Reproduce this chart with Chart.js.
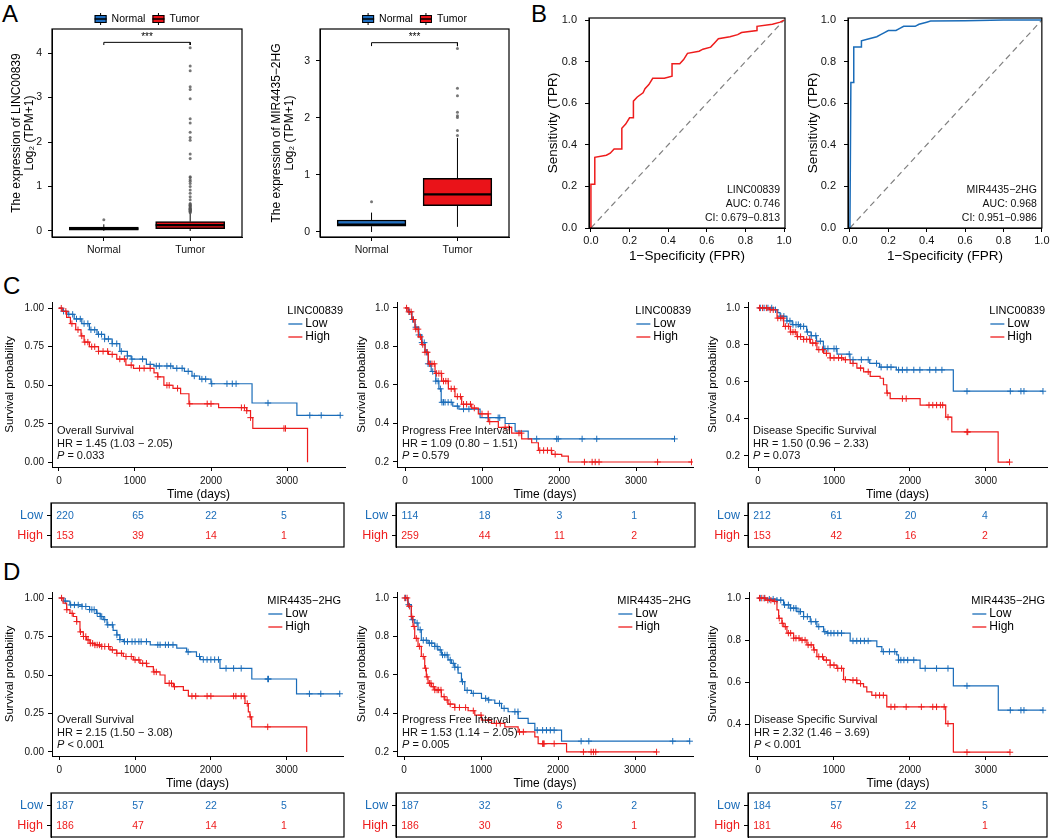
<!DOCTYPE html>
<html>
<head>
<meta charset="utf-8">
<script src="https://cdn.jsdelivr.net/npm/chart.js@4.4.1/dist/chart.umd.min.js"></script>
<style>
  body { margin: 0; width: 1052px; height: 839px; background: #fff; position: relative; overflow: hidden; font-family: "Liberation Sans", Arial, sans-serif; }
  .tag { position: absolute; font-size: 24px; line-height: 24px; color: #000; }
</style>
</head>
<body>
<div class="tag" style="left:2px;top:2px">A</div>
<div class="tag" style="left:531px;top:2px">B</div>
<div class="tag" style="left:3px;top:274px">C</div>
<div class="tag" style="left:3px;top:560px">D</div>
<script>
// ---------- A: expression boxplots (lower whisker, q1, median, q3, upper whisker) ----------
const groups = ['Normal', 'Tumor'];
const lincNormalBox = [0.0, 0.02, 0.05, 0.09, 0.15];
const lincTumorBox = [0.0, 0.05, 0.13, 0.21, 0.40];
const lincNormalOut = [0.25];
const lincTumorOut = [0.41, 0.43, 0.44, 0.45, 0.46, 0.47, 0.48, 0.49, 0.50, 0.51, 0.53, 0.55, 0.57, 0.58, 0.60, 0.62,
  0.70, 0.77, 0.85, 0.92, 1.00, 1.07, 1.12, 1.15, 1.20, 1.22, 1.63, 1.73, 2.04, 2.10, 2.22, 2.43, 2.52, 2.97,
  3.18, 3.24, 3.60, 3.71, 4.12];
const mirNormalBox = [0.0, 0.10, 0.13, 0.21, 0.34];
const mirTumorBox = [0.09, 0.46, 0.66, 0.94, 1.65];
const mirNormalOut = [0.53];
const mirTumorOut = [1.69, 1.78, 2.01, 2.04, 2.10, 2.39, 2.52, 3.22];

// ---------- B: ROC curves ----------
const rocLincFpr = [0, 0, 0.02, 0.02, 0.08, 0.10, 0.12, 0.16, 0.16, 0.18, 0.20, 0.22, 0.22, 0.24, 0.27, 0.28, 0.30,
  0.32, 0.38, 0.42, 0.42, 0.46, 0.48, 0.50, 0.56, 0.58, 0.62, 0.64, 0.66, 0.72, 0.76, 0.78, 0.86, 0.86, 0.94, 0.98, 1];
const rocLincTpr = [0, 0.21, 0.21, 0.34, 0.35, 0.36, 0.38, 0.38, 0.48, 0.50, 0.53, 0.53, 0.61, 0.63, 0.65, 0.67, 0.69,
  0.72, 0.72, 0.73, 0.79, 0.79, 0.81, 0.84, 0.85, 0.86, 0.87, 0.89, 0.91, 0.92, 0.93, 0.94, 0.95, 0.97, 0.98, 0.99, 1];
const rocLincNote = ['LINC00839', 'AUC: 0.746', 'CI: 0.679−0.813'];
const rocMirFpr = [0, 0.005, 0.02, 0.02, 0.06, 0.06, 0.10, 0.14, 0.16, 0.18, 0.20, 0.24, 0.26, 0.28, 0.34, 0.36, 0.40, 0.42, 0.60, 0.80, 1];
const rocMirTpr = [0, 0.70, 0.70, 0.87, 0.87, 0.90, 0.91, 0.92, 0.93, 0.94, 0.95, 0.95, 0.96, 0.97, 0.97, 0.98, 0.99, 0.995, 0.997, 1, 1];
const rocMirNote = ['MIR4435−2HG', 'AUC: 0.968', 'CI: 0.951−0.986'];

// ---------- C / D: Kaplan-Meier curves (step times, survival, censor times) ----------
const riskTimes = [0, 1000, 2000, 3000];

const cOsLowT = [0, 50, 120, 200, 300, 400, 500, 600, 700, 800, 900, 950, 1150, 1250, 1500, 1650, 1750, 1850, 2000, 2540, 3130, 3700];
const cOsLowS = [1, 0.98, 0.96, 0.93, 0.90, 0.86, 0.83, 0.80, 0.77, 0.72, 0.69, 0.67, 0.635, 0.625, 0.61, 0.59, 0.56, 0.54, 0.51, 0.385, 0.305, 0.305];
const cOsLowC = [60, 130, 180, 230, 280, 330, 380, 420, 470, 520, 560, 600, 650, 700, 760, 820, 900, 960, 1100, 1200, 1280, 1320, 1420, 1470, 1550, 1620, 1700, 1780, 1880, 1930, 2010, 2210, 2280, 2330, 2750, 3300, 3450, 3700];
const cOsHighT = [0, 40, 100, 150, 220, 290, 330, 400, 520, 650, 760, 880, 980, 1250, 1300, 1380, 1500, 1600, 1710, 2100, 2470, 2520, 2550, 3270];
const cOsHighS = [1, 0.98, 0.94, 0.90, 0.86, 0.82, 0.78, 0.75, 0.72, 0.70, 0.67, 0.63, 0.61, 0.58, 0.555, 0.50, 0.48, 0.445, 0.38, 0.355, 0.335, 0.29, 0.22, 0];
const cOsHighC = [30, 90, 170, 250, 300, 340, 380, 430, 470, 520, 580, 640, 700, 800, 860, 950, 1060, 1120, 1200, 1300, 1420, 1450, 1560, 1720, 1950, 2000, 2400, 2440, 2470, 2520, 2960, 2980];
const cOsRiskLow = [220, 65, 22, 5];
const cOsRiskHigh = [153, 39, 14, 1];
const cOsNote = ['Overall Survival', 'HR = 1.45 (1.03 − 2.05)', '= 0.033'];

const cPfiLowT = [0, 40, 90, 130, 180, 220, 260, 300, 340, 400, 440, 470, 620, 700, 975, 1300, 1430, 1600, 3500];
const cPfiLowS = [1, 0.98, 0.94, 0.90, 0.86, 0.82, 0.77, 0.71, 0.67, 0.62, 0.58, 0.51, 0.49, 0.475, 0.43, 0.40, 0.36, 0.32, 0.32];
const cPfiLowC = [60, 100, 140, 180, 220, 250, 280, 300, 330, 360, 400, 430, 460, 480, 500, 520, 560, 600, 680, 760, 830, 1080, 1210, 1230, 1710, 1970, 1990, 2300, 2490, 3500];
const cPfiHighT = [0, 40, 87, 130, 173, 216, 260, 303, 390, 476, 563, 649, 736, 866, 952, 1082, 1212, 1385, 1515, 1645, 1732, 1905, 2035, 2121, 3720];
const cPfiHighS = [1, 0.98, 0.94, 0.89, 0.85, 0.81, 0.77, 0.71, 0.66, 0.62, 0.58, 0.54, 0.50, 0.48, 0.45, 0.41, 0.38, 0.35, 0.32, 0.30, 0.26, 0.24, 0.23, 0.20, 0.20];
const cPfiHighC = [20, 50, 80, 110, 140, 170, 200, 230, 260, 290, 320, 350, 380, 410, 440, 470, 500, 530, 560, 600, 640, 680, 720, 760, 800, 850, 900, 1000, 1080, 1100, 1300, 1350, 1480, 1510, 1750, 1800, 1850, 1900, 1950, 2330, 2430, 2470, 2520, 3280, 3720];
const cPfiRiskLow = [114, 18, 3, 1];
const cPfiRiskHigh = [259, 44, 11, 2];
const cPfiNote = ['Progress Free Interval', 'HR = 1.09 (0.80 − 1.51)', '= 0.579'];

const cDssLowT = [0, 200, 260, 290, 380, 450, 550, 640, 700, 770, 860, 1040, 1210, 1470, 1600, 1820, 2570, 3750];
const cDssLowS = [1, 0.99, 0.975, 0.955, 0.93, 0.91, 0.90, 0.87, 0.85, 0.82, 0.78, 0.75, 0.72, 0.70, 0.68, 0.665, 0.55, 0.55];
const cDssLowC = [30, 80, 130, 180, 230, 300, 340, 380, 420, 460, 500, 530, 560, 600, 650, 700, 760, 820, 880, 920, 1000, 1030, 1200, 1250, 1360, 1450, 1560, 1620, 1700, 1750, 1850, 1900, 1960, 2050, 2130, 2260, 2340, 2420, 2750, 3320, 3460, 3500, 3750];
const cDssHighT = [0, 150, 250, 337, 425, 512, 600, 688, 775, 863, 950, 1125, 1213, 1301, 1389, 1476, 1607, 1651, 1695, 1739, 2133, 2470, 2550, 3160, 3310];
const cDssHighS = [1, 0.99, 0.945, 0.90, 0.87, 0.845, 0.83, 0.81, 0.775, 0.755, 0.73, 0.72, 0.70, 0.675, 0.655, 0.63, 0.62, 0.585, 0.54, 0.51, 0.475, 0.41, 0.33, 0.167, 0.167];
const cDssHighC = [20, 60, 110, 160, 200, 260, 300, 330, 360, 400, 430, 460, 490, 520, 560, 600, 640, 680, 720, 760, 800, 850, 900, 950, 1000, 1060, 1100, 1150, 1250, 1350, 1450, 1700, 1900, 1950, 2250, 2300, 2350, 2400, 2430, 2500, 2750, 2760, 3310];
const cDssRiskLow = [212, 61, 20, 4];
const cDssRiskHigh = [153, 42, 16, 2];
const cDssNote = ['Disease Specific Survival', 'HR = 1.50 (0.96 − 2.33)', '= 0.073'];

const dOsLowT = [0, 60, 140, 300, 400, 490, 540, 580, 630, 710, 760, 800, 845, 1200, 1550, 1680, 1810, 1860, 2120, 2540, 3130, 3700];
const dOsLowS = [1, 0.98, 0.955, 0.945, 0.925, 0.90, 0.88, 0.86, 0.826, 0.79, 0.76, 0.73, 0.717, 0.696, 0.674, 0.65, 0.62, 0.60, 0.543, 0.474, 0.378, 0.378];
const dOsLowC = [80, 150, 200, 250, 300, 350, 400, 430, 460, 500, 540, 560, 600, 640, 700, 760, 800, 860, 900, 960, 1000, 1050, 1080, 1150, 1300, 1330, 1400, 1440, 1500, 1700, 1850, 1900, 1950, 2000, 2050, 2100, 2200, 2300, 2400, 2750, 2760, 3300, 3450, 3700];
const dOsHighT = [0, 50, 97, 141, 185, 229, 273, 317, 360, 405, 470, 537, 669, 757, 845, 977, 1065, 1153, 1241, 1329, 1395, 1505, 1637, 1703, 2450, 2494, 2515, 2538, 3264];
const dOsHighS = [1, 0.967, 0.924, 0.90, 0.88, 0.847, 0.78, 0.75, 0.728, 0.706, 0.695, 0.685, 0.663, 0.641, 0.62, 0.598, 0.576, 0.554, 0.52, 0.50, 0.446, 0.424, 0.40, 0.363, 0.315, 0.26, 0.228, 0.163, 0];
const dOsHighC = [30, 100, 170, 230, 280, 320, 350, 380, 410, 440, 470, 500, 530, 560, 600, 650, 700, 760, 820, 880, 950, 1000, 1050, 1100, 1150, 1250, 1280, 1450, 1480, 1520, 1750, 1800, 1950, 2000, 2300, 2330, 2400, 2440, 2480, 2520, 2750];
const dOsRiskLow = [187, 57, 22, 5];
const dOsRiskHigh = [186, 47, 14, 1];
const dOsNote = ['Overall Survival', 'HR = 2.15 (1.50 − 3.08)', '< 0.001'];

const dPfiLowT = [0, 52, 95, 140, 182, 225, 312, 399, 440, 485, 572, 615, 659, 702, 746, 789, 876, 1006, 1090, 1179, 1266, 1352, 1482, 1612, 1699, 2046, 3715];
const dPfiLowS = [1, 0.965, 0.887, 0.87, 0.835, 0.78, 0.765, 0.748, 0.73, 0.704, 0.678, 0.66, 0.64, 0.61, 0.565, 0.52, 0.504, 0.478, 0.47, 0.452, 0.426, 0.409, 0.374, 0.348, 0.313, 0.256, 0.256];
const dPfiLowC = [20, 60, 110, 170, 210, 250, 290, 330, 360, 400, 430, 470, 500, 530, 560, 600, 640, 660, 700, 760, 820, 900, 1060, 1100, 1240, 1300, 1440, 1480, 1730, 1800, 1850, 1900, 1950, 2300, 2400, 3490, 3710];
const dPfiHighT = [0, 50, 95, 117, 139, 182, 225, 269, 290, 312, 355, 399, 485, 530, 572, 659, 832, 919, 1006, 1136, 1309, 1482, 1699, 1742, 2111, 3280];
const dPfiHighS = [1, 0.957, 0.904, 0.852, 0.79, 0.748, 0.696, 0.635, 0.59, 0.557, 0.539, 0.522, 0.487, 0.47, 0.449, 0.431, 0.414, 0.391, 0.365, 0.348, 0.33, 0.304, 0.278, 0.243, 0.20, 0.20];
const dPfiHighC = [10, 40, 70, 100, 130, 160, 200, 250, 280, 300, 330, 350, 380, 400, 430, 450, 480, 520, 560, 600, 660, 720, 800, 900, 1000, 1100, 1200, 1250, 1500, 1550, 1800, 1810, 1820, 1950, 2330, 2430, 2460, 2490, 3280];
const dPfiRiskLow = [187, 32, 6, 2];
const dPfiRiskHigh = [186, 30, 8, 1];
const dPfiNote = ['Progress Free Interval', 'HR = 1.53 (1.14 − 2.05)', '= 0.005'];

const dDssLowT = [0, 120, 250, 337, 425, 512, 600, 688, 775, 863, 907, 1213, 1564, 1630, 1826, 1849, 2133, 2571, 3162, 3754];
const dDssLowS = [1, 0.995, 0.99, 0.968, 0.952, 0.936, 0.912, 0.888, 0.864, 0.84, 0.833, 0.796, 0.769, 0.745, 0.73, 0.705, 0.665, 0.582, 0.466, 0.466];
const dDssLowC = [30, 80, 150, 200, 250, 300, 350, 400, 430, 470, 500, 540, 560, 600, 650, 700, 760, 800, 880, 920, 960, 1000, 1050, 1100, 1250, 1300, 1350, 1400, 1450, 1650, 1730, 1800, 1850, 1880, 1920, 1970, 2050, 2200, 2350, 2500, 2750, 3320, 3460, 3500, 3750];
const dDssHighT = [0, 100, 200, 250, 272, 315, 340, 381, 469, 556, 644, 731, 775, 863, 950, 1038, 1126, 1213, 1301, 1389, 1432, 1498, 1695, 2470, 2571, 3316];
const dDssHighS = [1, 0.99, 0.984, 0.944, 0.904, 0.88, 0.864, 0.833, 0.809, 0.80, 0.777, 0.753, 0.721, 0.705, 0.681, 0.665, 0.612, 0.609, 0.593, 0.577, 0.553, 0.537, 0.482, 0.402, 0.266, 0.266];
const dDssHighC = [20, 50, 90, 130, 170, 220, 280, 320, 360, 400, 430, 470, 500, 540, 580, 620, 660, 700, 740, 800, 850, 900, 950, 1000, 1050, 1100, 1150, 1250, 1300, 1350, 1550, 1600, 1650, 1750, 1800, 1950, 2150, 2300, 2350, 2450, 2500, 2750, 3316];
const dDssRiskLow = [184, 57, 22, 5];
const dDssRiskHigh = [181, 46, 14, 1];
const dDssNote = ['Disease Specific Survival', 'HR = 2.32 (1.46 − 3.69)', '< 0.001'];

// ---------- styling ----------
const FONT = '"Liberation Sans", Arial, sans-serif';
const BLUE = '#1A6CB9';
const RED = '#EE1C1C';
const BOX_BLUE = '#1F6FC2';
const BOX_RED = '#EA1319';
Chart.defaults.font.family = FONT;

function mount(cv) {
  const c = document.createElement('canvas');
  c.width = cv.w; c.height = cv.h;
  c.style.cssText = `position:absolute;left:${cv.x}px;top:${cv.y}px;width:${cv.w}px;height:${cv.h}px`;
  document.body.appendChild(c);
  return c;
}

// fixes the chart area to an exact page rectangle
function frame(cv, plot) {
  return {
    pad: { left: 0, bottom: 0, top: plot.t - cv.y, right: cv.x + cv.w - plot.r },
    yW: plot.l - cv.x,
    xH: cv.y + cv.h - plot.b
  };
}

function linAxis(o) {
  return {
    type: 'linear', min: o.min, max: o.max, offset: false,
    afterBuildTicks: s => { s.ticks = o.vals.map(v => ({ value: v })); },
    afterFit: s => { if (s.isHorizontal()) s.height = o.size; else s.width = o.size; },
    ticks: {
      display: !o.hide, autoSkip: false, maxRotation: 0, padding: o.pad || 3,
      color: o.color || '#111', font: { family: FONT, size: o.font || 10 },
      callback: v => o.fmt(v)
    },
    grid: { display: !o.hide, offset: false, drawOnChartArea: false, drawTicks: true, tickLength: 4, color: '#000', lineWidth: 1 },
    border: { display: !o.hide, color: '#000', width: 1 },
    title: o.title ? {
      display: true, text: o.title, color: '#000',
      font: { family: FONT, size: o.titleSize, lineHeight: o.titleLH || 1.2 },
      padding: o.titlePad || { top: 0, bottom: 0 }
    } : { display: false }
  };
}

const boxBorder = {
  id: 'boxBorder',
  afterDraw(c) {
    const a = c.chartArea, ctx = c.ctx;
    ctx.save();
    ctx.strokeStyle = '#000';
    ctx.lineWidth = 1.2;
    ctx.strokeRect(a.left, a.top, a.right - a.left, a.bottom - a.top);
    ctx.restore();
  }
};

const baseOpts = (L) => ({
  responsive: false, animation: false, events: [],
  layout: { padding: L.pad },
  plugins: { legend: { display: false }, tooltip: { enabled: false } }
});

function pts(xs, ys) { return xs.map((x, i) => ({ x: x, y: ys[i] })); }

function stepAt(ts, ss, x) {
  let v = ss[0];
  for (let i = 0; i < ts.length; i++) if (ts[i] <= x) v = ss[i];
  return v;
}

// ---------- boxplot ----------
function boxChart(cv, plot, yr, yTicks, yTitle, normal, tumor, outN, outT, sigY) {
  const L = frame(cv, plot);
  const barW = (plot.r - plot.l) / 2.2 * 0.8;
  const stats = [normal, tumor];
  const whisk = [];
  stats.forEach((s, i) => {
    whisk.push({ type: 'line', data: [{ x: i + 1, y: s[0] }, { x: i + 1, y: s[1] }], borderColor: '#000', borderWidth: 1, pointRadius: 0, order: 6 });
    whisk.push({ type: 'line', data: [{ x: i + 1, y: s[3] }, { x: i + 1, y: s[4] }], borderColor: '#000', borderWidth: 1, pointRadius: 0, order: 6 });
  });
  const medians = stats.map((s, i) => ({
    type: 'line', data: [{ x: i + 0.6, y: s[2] }, { x: i + 1.4, y: s[2] }], borderColor: '#000', borderWidth: 2.2, pointRadius: 0, order: 3
  }));
  new Chart(mount(cv), {
    type: 'bar',
    data: {
      datasets: [
        ...whisk,
        {
          type: 'bar', data: stats.map((s, i) => ({ x: i + 1, y: [s[1], s[3]] })),
          backgroundColor: [BOX_BLUE, BOX_RED], borderColor: '#000', borderWidth: 1.5, borderSkipped: false,
          barThickness: barW, grouped: false, order: 5
        },
        ...medians,
        {
          type: 'scatter', data: [...outN.map(v => ({ x: 1, y: v })), ...outT.map(v => ({ x: 2, y: v }))],
          pointRadius: 1.5, backgroundColor: 'rgba(85,85,85,0.8)', borderWidth: 0, order: 2
        },
        {
          type: 'line', data: [{ x: 1, y: sigY - 0.06 }, { x: 1, y: sigY }, { x: 2, y: sigY }, { x: 2, y: sigY - 0.06 }],
          borderColor: '#000', borderWidth: 1, pointRadius: 0, order: 1
        }
      ]
    },
    options: Object.assign(baseOpts(L), {
      scales: {
        x: linAxis({ min: 0.4, max: 2.6, vals: [1, 2], fmt: v => groups[v - 1], size: L.xH, font: 10.5, pad: 3 }),
        y: linAxis({ min: yr[0], max: yr[1], vals: yTicks, fmt: v => String(v), size: L.yW, font: 10.5, pad: 6,
          title: yTitle, titleSize: 12, titleLH: 1.05, titlePad: { top: cv.tp, bottom: 0 } })
      }
    }),
    plugins: [boxBorder, {
      id: 'boxDeco',
      afterDraw(c) {
        const ctx = c.ctx, a = c.chartArea, xs = c.scales.x, ys = c.scales.y;
        ctx.save();
        ctx.fillStyle = '#000';
        ctx.font = `10px ${FONT}`;
        ctx.textAlign = 'center';
        ctx.textBaseline = 'middle';
        ctx.fillText('***', xs.getPixelForValue(1.5), ys.getPixelForValue(sigY) - 5);
        // legend
        ctx.font = `10.5px ${FONT}`;
        const wN = ctx.measureText(groups[0]).width, wT = ctx.measureText(groups[1]).width;
        const total = 12 + 5 + wN + 7 + 12 + 5 + wT;
        let x = (a.left + a.right) / 2 - total / 2;
        const y = 19;
        [[BOX_BLUE, groups[0], wN], [BOX_RED, groups[1], wT]].forEach(([col, lab, w]) => {
          ctx.strokeStyle = '#000';
          ctx.lineWidth = 1;
          ctx.beginPath();
          ctx.moveTo(x + 6, y - 6); ctx.lineTo(x + 6, y + 6); ctx.stroke();
          ctx.fillStyle = col;
          ctx.fillRect(x, y - 4, 12, 8);
          ctx.strokeRect(x + 0.5, y - 3.5, 11, 7);
          ctx.lineWidth = 1.5;
          ctx.beginPath(); ctx.moveTo(x, y); ctx.lineTo(x + 12, y); ctx.stroke();
          ctx.fillStyle = '#000';
          ctx.textAlign = 'left';
          ctx.fillText(lab, x + 17, y);
          x += 12 + 5 + w + 7;
        });
        ctx.restore();
      }
    }]
  });
}

// ---------- ROC ----------
function rocChart(cv, plot, xr, fpr, tpr, color, note) {
  const L = frame(cv, plot);
  const ticks = [0, 0.2, 0.4, 0.6, 0.8, 1.0];
  new Chart(mount(cv), {
    type: 'line',
    data: {
      datasets: [
        { data: pts(fpr, tpr), borderColor: color, borderWidth: 1.5, pointRadius: 0, tension: 0, order: 1 },
        { data: [{ x: 0, y: 0 }, { x: 1, y: 1 }], borderColor: '#808080', borderWidth: 1.2, borderDash: [6, 4], pointRadius: 0, order: 2 }
      ]
    },
    options: Object.assign(baseOpts(L), {
      scales: {
        x: linAxis({ min: xr[0], max: xr[1], vals: ticks, fmt: v => v.toFixed(1), size: L.xH, font: 11, pad: 2.5,
          title: '1−Specificity (FPR)', titleSize: 13.5 }),
        y: linAxis({ min: 0, max: 1.01, vals: ticks, fmt: v => v.toFixed(1), size: L.yW, font: 11, pad: 8,
          title: 'Sensitivity (TPR)', titleSize: 13.5, titlePad: { top: 10, bottom: 0 } })
      }
    }),
    plugins: [boxBorder, {
      id: 'rocNote',
      afterDraw(c) {
        const ctx = c.ctx, a = c.chartArea;
        ctx.save();
        ctx.fillStyle = '#111';
        ctx.font = `10.5px ${FONT}`;
        ctx.textAlign = 'right';
        ctx.textBaseline = 'middle';
        note.forEach((t, i) => ctx.fillText(t, a.right - 5, a.bottom - 38 + i * 14));
        ctx.restore();
      }
    }]
  });
}

// ---------- Kaplan-Meier ----------
function kmChart(cv, plot, xr, yr, yTicks, digits, low, high, gene, note) {
  const L = frame(cv, plot);
  const cens = (g) => g.c.map(x => ({ x: x, y: stepAt(g.t, g.s, x) }));
  new Chart(mount(cv), {
    type: 'line',
    data: {
      datasets: [
        { data: pts(high.t, high.s), borderColor: RED, borderWidth: 1.2, stepped: 'before', pointRadius: 0, order: 1 },
        { type: 'scatter', data: cens(high), pointStyle: 'cross', pointRadius: 3.2, borderColor: RED, borderWidth: 1, order: 2 },
        { data: pts(low.t, low.s), borderColor: BLUE, borderWidth: 1.2, stepped: 'before', pointRadius: 0, order: 3 },
        { type: 'scatter', data: cens(low), pointStyle: 'cross', pointRadius: 3.2, borderColor: BLUE, borderWidth: 1, order: 4 }
      ]
    },
    options: Object.assign(baseOpts(L), {
      scales: {
        x: linAxis({ min: xr[0], max: xr[1], vals: riskTimes, fmt: v => String(v), size: L.xH, font: 10, pad: 4,
          title: 'Time (days)', titleSize: 12 }),
        y: linAxis({ min: yr[0], max: yr[1], vals: yTicks, fmt: v => v.toFixed(digits), size: L.yW, font: 10, pad: 4,
          title: 'Survival probability', titleSize: 11.5, titlePad: { top: cv.tp, bottom: 0 } })
      }
    }),
    plugins: [{
      id: 'kmDeco',
      afterDraw(c) {
        const ctx = c.ctx, a = c.chartArea;
        ctx.save();
        ctx.textBaseline = 'middle';
        ctx.textAlign = 'left';
        ctx.fillStyle = '#000';
        ctx.font = `11px ${FONT}`;
        const w = ctx.measureText(gene).width;
        const x0 = a.right - 2 - w;
        ctx.fillText(gene, x0, a.top + 9);
        [[BLUE, 'Low', 22], [RED, 'High', 35]].forEach(([col, lab, dy]) => {
          ctx.strokeStyle = col;
          ctx.lineWidth = 1.3;
          ctx.beginPath(); ctx.moveTo(x0 + 1, a.top + dy); ctx.lineTo(x0 + 15, a.top + dy); ctx.stroke();
          ctx.font = `12px ${FONT}`;
          ctx.fillText(lab, x0 + 18, a.top + dy);
        });
        const nx = a.left + 5;
        ctx.font = `11px ${FONT}`;
        ctx.fillStyle = '#111';
        ctx.fillText(note[0], nx, a.bottom - 36);
        ctx.fillText(note[1], nx, a.bottom - 23);
        ctx.font = `italic 11px ${FONT}`;
        ctx.fillText('P', nx, a.bottom - 11);
        const pw = ctx.measureText('P').width;
        ctx.font = `11px ${FONT}`;
        ctx.fillText(' ' + note[2], nx + pw, a.bottom - 11);
        ctx.restore();
      }
    }]
  });
}

// ---------- number-at-risk table ----------
function riskChart(x, w, top, bottom, xr, low, high) {
  const cv = { x: x, y: top - 14, w: w, h: bottom - top + 28 };
  const plot = { l: x + 51, t: top, r: x + w - 7, b: bottom };
  const L = frame(cv, plot);
  new Chart(mount(cv), {
    type: 'scatter',
    data: {
      datasets: [
        { data: riskTimes.map(t => ({ x: t, y: 2 })), counts: low, color: BLUE, pointRadius: 0 },
        { data: riskTimes.map(t => ({ x: t, y: 1 })), counts: high, color: RED, pointRadius: 0 }
      ]
    },
    options: Object.assign(baseOpts(L), {
      scales: {
        x: linAxis({ min: xr[0], max: xr[1], vals: [], fmt: v => '', size: L.xH, hide: true }),
        y: linAxis({ min: 0.442, max: 2.645, vals: [1, 2], fmt: v => (v === 2 ? 'Low' : 'High'), size: L.yW, font: 12.5, pad: 4,
          color: ctx => (ctx.tick && ctx.tick.value === 2 ? BLUE : RED) })
      }
    }),
    plugins: [boxBorder, {
      id: 'riskNums',
      afterDatasetsDraw(c) {
        const ctx = c.ctx;
        ctx.save();
        ctx.font = `10.5px ${FONT}`;
        ctx.textAlign = 'center';
        ctx.textBaseline = 'middle';
        c.data.datasets.forEach((ds, di) => {
          ctx.fillStyle = ds.color;
          c.getDatasetMeta(di).data.forEach((el, i) => ctx.fillText(String(ds.counts[i]), el.x, el.y));
        });
        ctx.restore();
      }
    }]
  });
}

// ---------- panels ----------
boxChart({ x: 0, y: 0, w: 250, h: 262, tp: 10.7 }, { l: 52, t: 29, r: 242, b: 237 }, [-0.135, 4.54], [0, 1, 2, 3, 4],
  ['The expression of LINC00839', 'Log₂ (TPM+1)'], lincNormalBox, lincTumorBox, lincNormalOut, lincTumorOut, 4.24);
boxChart({ x: 262, y: 0, w: 258, h: 262, tp: 8.4 }, { l: 320, t: 29, r: 509, b: 237 }, [-0.088, 3.56], [0, 1, 2, 3],
  ['The expression of MIR4435−2HG', 'Log₂ (TPM+1)'], mirNormalBox, mirTumorBox, mirNormalOut, mirTumorOut, 3.32);

rocChart({ x: 535, y: 0, w: 262, h: 264 }, { l: 589, t: 18, r: 785, b: 228 }, [-0.01, 1.005], rocLincFpr, rocLincTpr, RED, rocLincNote);
rocChart({ x: 795, y: 0, w: 257, h: 264 }, { l: 848, t: 18, r: 1043, b: 228 }, [-0.01, 1.0], rocMirFpr, rocMirTpr, BLUE, rocMirNote);

const t2 = [0, 0.25, 0.5, 0.75, 1.0];
const t1 = [0.2, 0.4, 0.6, 0.8, 1.0];
const t1b = [0.4, 0.6, 0.8, 1.0];

kmChart({ x: 0, y: 290, w: 352, h: 212, tp: 3 }, { l: 52, t: 302, r: 345, b: 467 }, [-92, 3763], [-0.03, 1.04], t2, 2,
  { t: cOsLowT, s: cOsLowS, c: cOsLowC }, { t: cOsHighT, s: cOsHighS, c: cOsHighC }, 'LINC00839', cOsNote);
kmChart({ x: 355, y: 290, w: 345, h: 212, tp: 0 }, { l: 397, t: 302, r: 693, b: 467 }, [-104, 3740], [0.174, 1.031], t1, 1,
  { t: cPfiLowT, s: cPfiLowS, c: cPfiLowC }, { t: cPfiHighT, s: cPfiHighS, c: cPfiHighC }, 'LINC00839', cPfiNote);
kmChart({ x: 705, y: 290, w: 347, h: 212, tp: 1 }, { l: 748, t: 302, r: 1047, b: 467 }, [-132, 3803], [0.1405, 1.032], t1, 1,
  { t: cDssLowT, s: cDssLowS, c: cDssLowC }, { t: cDssHighT, s: cDssHighS, c: cDssHighC }, 'LINC00839', cDssNote);

riskChart(0, 351, 503, 547, [-192, 3822], cOsRiskLow, cOsRiskHigh);
riskChart(345, 357, 503, 547, [-187, 3815], cPfiRiskLow, cPfiRiskHigh);
riskChart(697, 357, 503, 547, [-188, 3835], cDssRiskLow, cDssRiskHigh);

kmChart({ x: 0, y: 580, w: 352, h: 211, tp: 3 }, { l: 52, t: 592, r: 343, b: 756 }, [-96, 3743], [-0.026, 1.039], t2, 2,
  { t: dOsLowT, s: dOsLowS, c: dOsLowC }, { t: dOsHighT, s: dOsHighS, c: dOsHighC }, 'MIR4435−2HG', dOsNote);
kmChart({ x: 355, y: 580, w: 345, h: 211, tp: 0 }, { l: 397, t: 592, r: 693, b: 756 }, [-91, 3753], [0.179, 1.031], t1, 1,
  { t: dPfiLowT, s: dPfiLowS, c: dPfiLowC }, { t: dPfiHighT, s: dPfiHighS, c: dPfiHighC }, 'MIR4435−2HG', dPfiNote);
kmChart({ x: 705, y: 580, w: 347, h: 211, tp: 1 }, { l: 749, t: 592, r: 1047, b: 756 }, [-118, 3803], [0.248, 1.029], t1b, 1,
  { t: dDssLowT, s: dDssLowS, c: dDssLowC }, { t: dDssHighT, s: dDssHighS, c: dDssHighC }, 'MIR4435−2HG', dDssNote);

riskChart(0, 351, 793, 837, [-192, 3822], dOsRiskLow, dOsRiskHigh);
riskChart(345, 357, 793, 837, [-187, 3815], dPfiRiskLow, dPfiRiskHigh);
riskChart(697, 357, 793, 837, [-188, 3835], dDssRiskLow, dDssRiskHigh);
</script>
</body>
</html>
